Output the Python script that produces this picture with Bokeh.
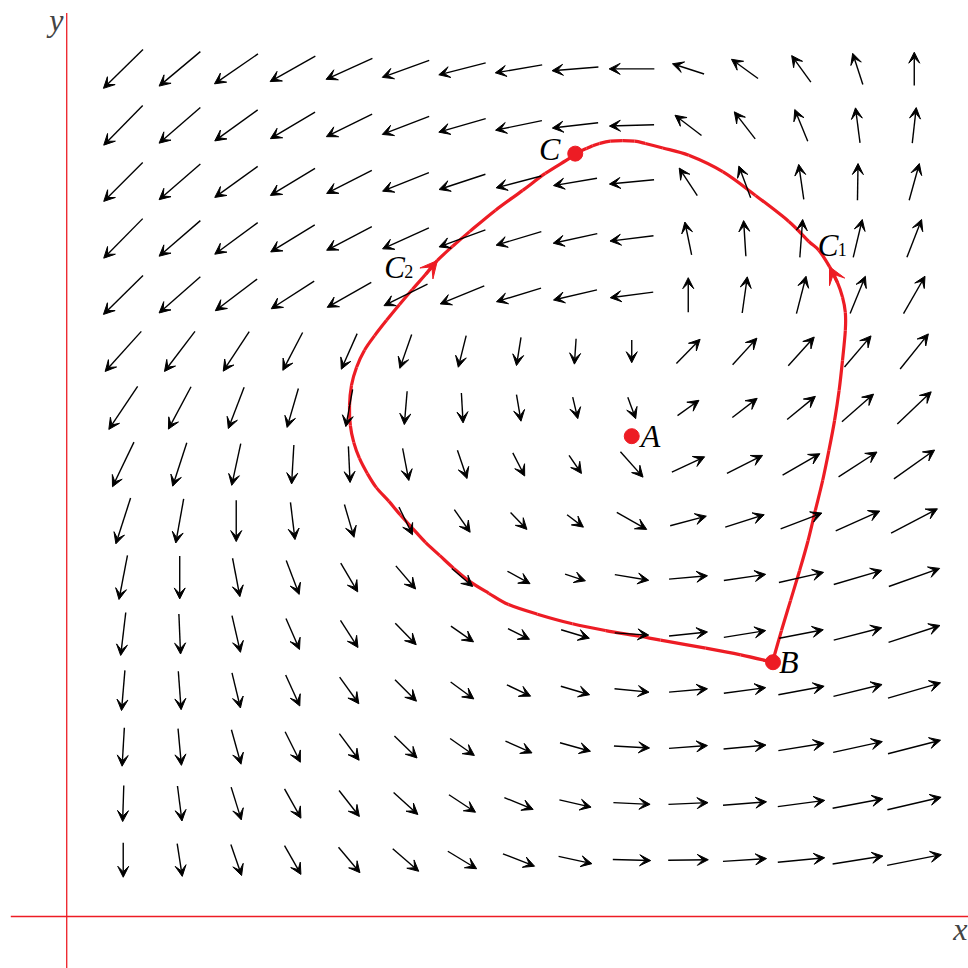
from bokeh.plotting import figure
from bokeh.models import Arrow, VeeHead, ColumnDataSource, Label
from bokeh.embed import file_html
from bokeh.resources import INLINE

# ---------------- data ----------------
grid_x = list(range(1, 16))            # columns x = 1 .. 15
grid_y = list(range(15, 0, -1))        # rows y = 15 .. 1 (top to bottom)

# vector components (u, v), one row per grid_y entry, one column per grid_x entry
U = [
    [-0.70, -0.73, -0.77, -0.80, -0.82, -0.83, -0.83, -0.83, -0.82, -0.80, -0.56, -0.47, -0.34, -0.18, 0.00],
    [-0.69, -0.73, -0.76, -0.79, -0.81, -0.83, -0.83, -0.82, -0.81, -0.79, -0.47, -0.37, -0.23, -0.08, 0.07],
    [-0.69, -0.73, -0.76, -0.79, -0.80, -0.82, -0.82, -0.80, -0.77, -0.79, -0.32, -0.21, -0.09, 0.01, 0.18],
    [-0.69, -0.73, -0.76, -0.78, -0.80, -0.82, -0.82, -0.80, -0.78, -0.77, -0.12, -0.04, 0.05, 0.16, 0.26],
    [-0.70, -0.73, -0.74, -0.76, -0.78, -0.77, -0.78, -0.79, -0.77, -0.76, 0.00, 0.09, 0.17, 0.27, 0.38],
    [-0.64, -0.54, -0.46, -0.35, -0.28, -0.21, -0.14, -0.08, -0.03, 0.00, 0.42, 0.43, 0.46, 0.47, 0.50],
    [-0.51, -0.40, -0.28, -0.20, -0.12, -0.05, 0.03, 0.08, 0.09, 0.14, 0.38, 0.44, 0.50, 0.56, 0.60],
    [-0.38, -0.25, -0.16, -0.04, 0.03, 0.11, 0.17, 0.21, 0.22, 0.40, 0.58, 0.63, 0.66, 0.68, 0.72],
    [-0.26, -0.14, 0.00, 0.08, 0.17, 0.24, 0.28, 0.29, 0.29, 0.53, 0.64, 0.69, 0.73, 0.78, 0.82],
    [-0.15, 0.00, 0.13, 0.23, 0.30, 0.35, 0.37, 0.40, 0.36, 0.60, 0.68, 0.74, 0.79, 0.85, 0.90],
    [-0.09, 0.03, 0.15, 0.24, 0.31, 0.37, 0.40, 0.38, 0.50, 0.60, 0.68, 0.74, 0.78, 0.85, 0.91],
    [-0.06, 0.05, 0.15, 0.25, 0.34, 0.38, 0.41, 0.42, 0.51, 0.61, 0.68, 0.74, 0.81, 0.86, 0.93],
    [-0.04, 0.06, 0.17, 0.27, 0.35, 0.40, 0.43, 0.47, 0.54, 0.63, 0.68, 0.75, 0.81, 0.87, 0.93],
    [-0.02, 0.08, 0.18, 0.29, 0.36, 0.43, 0.47, 0.51, 0.56, 0.65, 0.70, 0.77, 0.83, 0.89, 0.95],
    [0.00, 0.09, 0.19, 0.29, 0.38, 0.46, 0.51, 0.56, 0.59, 0.67, 0.71, 0.77, 0.83, 0.89, 0.96],
]
V = [
    [-0.69, -0.61, -0.53, -0.45, -0.37, -0.30, -0.21, -0.14, -0.065, 0.00, 0.18, 0.34, 0.47, 0.55, 0.59],
    [-0.70, -0.63, -0.55, -0.47, -0.40, -0.32, -0.24, -0.17, -0.095, -0.024, 0.36, 0.48, 0.56, 0.62, 0.63],
    [-0.69, -0.63, -0.55, -0.48, -0.41, -0.33, -0.27, -0.21, -0.13, -0.077, 0.49, 0.56, 0.62, 0.65, 0.65],
    [-0.70, -0.63, -0.56, -0.48, -0.42, -0.37, -0.30, -0.24, -0.17, -0.095, 0.58, 0.63, 0.67, 0.67, 0.67],
    [-0.69, -0.64, -0.56, -0.49, -0.44, -0.38, -0.32, -0.24, -0.18, -0.10, 0.61, 0.64, 0.66, 0.66, 0.66],
    [-0.71, -0.71, -0.70, -0.67, -0.63, -0.60, -0.56, -0.50, -0.45, -0.40, 0.43, 0.47, 0.51, 0.55, 0.62],
    [-0.76, -0.75, -0.73, -0.69, -0.66, -0.59, -0.53, -0.47, -0.38, -0.38, 0.27, 0.34, 0.41, 0.49, 0.57],
    [-0.79, -0.77, -0.74, -0.69, -0.64, -0.57, -0.50, -0.41, -0.32, -0.45, 0.27, 0.32, 0.38, 0.44, 0.51],
    [-0.81, -0.78, -0.73, -0.66, -0.58, -0.49, -0.40, -0.30, -0.22, -0.30, 0.17, 0.22, 0.28, 0.35, 0.43],
    [-0.78, -0.76, -0.68, -0.60, -0.51, -0.41, -0.32, -0.22, -0.12, -0.10, 0.06, 0.11, 0.18, 0.25, 0.32],
    [-0.76, -0.71, -0.65, -0.55, -0.48, -0.38, -0.28, -0.19, -0.15, -0.04, 0.07, 0.12, 0.15, 0.22, 0.30],
    [-0.71, -0.68, -0.62, -0.55, -0.47, -0.38, -0.30, -0.20, -0.15, -0.06, 0.06, 0.10, 0.15, 0.21, 0.27],
    [-0.68, -0.65, -0.61, -0.54, -0.47, -0.39, -0.30, -0.21, -0.15, -0.035, 0.05, 0.07, 0.13, 0.19, 0.24],
    [-0.64, -0.62, -0.58, -0.52, -0.46, -0.39, -0.31, -0.21, -0.13, -0.03, 0.03, 0.06, 0.11, 0.17, 0.22],
    [-0.61, -0.58, -0.55, -0.51, -0.45, -0.40, -0.31, -0.22, -0.13, -0.02, 0.01, 0.05, 0.08, 0.14, 0.19],
]

# named points
point_names = ["A", "B", "C"]
point_x = [10.0, 12.5, 9.0]
point_y = [8.5, 4.5, 13.5]

# path C1: from B up the right side to C
c1_x = [12.49, 12.65, 12.81, 12.97, 13.12, 13.25, 13.38, 13.49, 13.59, 13.67, 13.73, 13.78,
        13.78, 13.73, 13.64, 13.50, 13.31, 13.13, 12.78, 12.19, 11.61, 11.01, 10.55, 10.24,
        10.05, 9.84, 9.62, 9.43, 9.31, 9.20, 8.98]
c1_y = [4.50, 5.06, 5.59, 6.12, 6.65, 7.19, 7.72, 8.25, 8.78, 9.31, 9.84, 10.37,
        10.69, 10.96, 11.22, 11.50, 11.79, 11.95, 12.30, 12.76, 13.18, 13.47, 13.60, 13.68,
        13.72, 13.73, 13.72, 13.68, 13.64, 13.59, 13.50]
# path C2: from B round the left side to C
c2_x = [12.49, 11.93, 11.31, 10.51, 10.14, 9.54, 8.95, 8.33, 7.82, 7.47, 7.13, 6.85, 6.60,
        6.35, 6.12, 5.91, 5.70, 5.48, 5.32, 5.18, 5.08, 5.02, 5.005, 5.04, 5.13, 5.27, 5.45,
        5.66, 5.89, 6.12, 6.35, 6.56, 6.83, 7.13, 7.59, 8.07, 8.47, 8.90, 8.98]
c2_y = [4.50, 4.63, 4.75, 4.89, 4.96, 5.06, 5.18, 5.35, 5.52, 5.72, 5.93, 6.16, 6.39,
        6.62, 6.87, 7.10, 7.35, 7.59, 7.84, 8.11, 8.39, 8.69, 9.04, 9.40, 9.72, 10.02, 10.28,
        10.55, 10.83, 11.10, 11.36, 11.61, 11.86, 12.12, 12.50, 12.85, 13.15, 13.42, 13.50]
c1_arrow_index = 15
c2_arrow_index = 31

# axes extents
x_axis_extent = [-0.99, 16.5]
y_axis_extent = [-1.0, 15.99]

RED = "#ED1C24"
SERIF = "Liberation Serif"

# ---------------- figure ----------------
p = figure(width=968, height=968, x_range=(-1.172, 15.96), y_range=(-0.92, 16.21),
           output_backend="svg", toolbar_location=None, min_border=0,
           x_axis_location=None, y_axis_location=None)
p.grid.visible = False
p.outline_line_color = None
p.background_fill_color = "white"
p.border_fill_color = "white"

# axes lines
p.segment(x0=[x_axis_extent[0], 0], y0=[0, y_axis_extent[0]],
          x1=[x_axis_extent[1], 0], y1=[0, y_axis_extent[1]],
          line_color=RED, line_width=1.3)

# vector field
x0, y0, x1, y1 = [], [], [], []
for r, gy in enumerate(grid_y):
    for c, gx in enumerate(grid_x):
        u, v = U[r][c], V[r][c]
        x0.append(gx - u / 2); y0.append(gy - v / 2)
        x1.append(gx + u / 2); y1.append(gy + v / 2)
src = ColumnDataSource(dict(x0=x0, y0=y0, x1=x1, y1=y1))
p.add_layout(Arrow(end=VeeHead(size=11, line_color="black", fill_color="black", line_width=1),
                   x_start="x0", y_start="y0", x_end="x1", y_end="y1", source=src,
                   line_color="black", line_width=1.4))


# curves: smooth path through the traced points (Catmull-Rom as cubic Bezier pieces)
def smooth_path(xs, ys):
    n = len(xs)
    seg = dict(x0=[], y0=[], x1=[], y1=[], cx0=[], cy0=[], cx1=[], cy1=[])
    for i in range(n - 1):
        a, b = max(i - 1, 0), min(i + 2, n - 1)
        seg["x0"].append(xs[i]); seg["y0"].append(ys[i])
        seg["x1"].append(xs[i + 1]); seg["y1"].append(ys[i + 1])
        seg["cx0"].append(xs[i] + (xs[i + 1] - xs[a]) / 6)
        seg["cy0"].append(ys[i] + (ys[i + 1] - ys[a]) / 6)
        seg["cx1"].append(xs[i + 1] - (xs[b] - xs[i]) / 6)
        seg["cy1"].append(ys[i + 1] - (ys[b] - ys[i]) / 6)
    return ColumnDataSource(seg)


for cx, cy in ((c1_x, c1_y), (c2_x, c2_y)):
    p.bezier(x0="x0", y0="y0", x1="x1", y1="y1", cx0="cx0", cy0="cy0", cx1="cx1", cy1="cy1",
             source=smooth_path(cx, cy), line_color=RED, line_width=3.2)
for cx, cy, i in ((c1_x, c1_y, c1_arrow_index), (c2_x, c2_y, c2_arrow_index)):
    p.add_layout(Arrow(end=VeeHead(size=17, line_color=RED, fill_color=RED, line_width=1),
                       x_start=cx[i - 1], y_start=cy[i - 1], x_end=cx[i], y_end=cy[i],
                       line_color=RED, line_width=3))

p.scatter(point_x, point_y, size=15, color=RED)

# point labels
offsets = {"A": (9, 0, "left"), "B": (6, 0, "left"), "C": (-15, 5, "right")}
for name, px, py in zip(point_names, point_x, point_y):
    dx, dy, al = offsets[name]
    p.add_layout(Label(x=px, y=py, x_offset=dx, y_offset=dy, text=name, text_align=al,
                       text_baseline="middle", text_font=SERIF, text_font_style="italic",
                       text_font_size="32px", text_color="black"))

# curve labels
for lx, ly, sub in ((13.29, 11.88, "1"), (5.62, 11.49, "2")):
    p.add_layout(Label(x=lx, y=ly, text="C", text_align="left", text_baseline="alphabetic",
                       text_font=SERIF, text_font_style="italic", text_font_size="31px",
                       text_color="black"))
    p.add_layout(Label(x=lx, y=ly, x_offset=20, y_offset=-4, text=sub, text_align="left",
                       text_baseline="alphabetic", text_font=SERIF, text_font_size="18px",
                       text_color="black"))

# axis names
p.add_layout(Label(x=15.94, y=-0.22, text="x", text_align="right", text_baseline="alphabetic",
                   text_font=SERIF, text_font_style="italic", text_font_size="32px"))
p.add_layout(Label(x=-0.06, y=15.87, text="y", text_align="right", text_baseline="alphabetic",
                   text_font=SERIF, text_font_style="italic", text_font_size="32px"))

open("out.html", "w").write(file_html(p, INLINE))
